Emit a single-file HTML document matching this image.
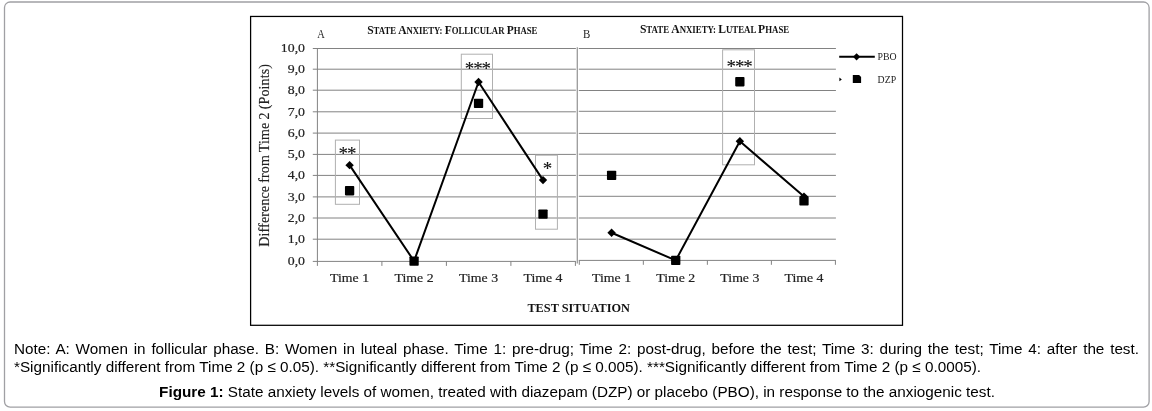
<!DOCTYPE html>
<html lang="en"><head><meta charset="utf-8"><title>Figure 1</title>
<style>
html,body{margin:0;padding:0;background:#fff;}
body{width:1152px;height:411px;position:relative;overflow:hidden;font-family:"Liberation Sans",Arial,sans-serif;color:#000;}
.note{position:absolute;left:14px;top:339px;width:1125px;font-size:15.27px;line-height:20px;margin:0;white-space:nowrap;}
.n1{text-align:justify;text-align-last:justify;white-space:normal;}
.cap{position:absolute;left:1px;top:382px;width:1152px;text-align:center;font-size:15.27px;line-height:20px;margin:0;}
</style></head><body>
<svg width="1152" height="411" viewBox="0 0 1152 411" style="position:absolute;left:0;top:0"><rect x="4.5" y="2" width="1144.6" height="405.1" rx="5.6" ry="5.6" fill="#fff" stroke="#a0a0a4" stroke-width="1.3"/></svg>
<svg width="1152" height="340" viewBox="0 0 1152 340" style="position:absolute;left:0;top:0" font-family="'Liberation Serif', 'DejaVu Serif', serif">
<rect x="250.6" y="16.45" width="651.9" height="308.85" fill="#fff" stroke="#000" stroke-width="1.25"/>
<line x1="312.79999999999995" y1="261.4" x2="575.9" y2="261.4" stroke="#828282" stroke-width="1"/>
<line x1="578.8" y1="260.4" x2="835.92" y2="260.4" stroke="#828282" stroke-width="1"/>
<text transform="translate(305,265.3) scale(1.08,1)" font-size="12.8" text-anchor="end" fill="#222" stroke="#222" stroke-width="0.2">0,0</text>
<line x1="312.79999999999995" y1="239.2" x2="575.9" y2="239.2" stroke="#828282" stroke-width="1"/>
<line x1="578.8" y1="239.2" x2="835.92" y2="239.2" stroke="#828282" stroke-width="1"/>
<text transform="translate(305,243.1) scale(1.08,1)" font-size="12.8" text-anchor="end" fill="#222" stroke="#222" stroke-width="0.2">1,0</text>
<line x1="312.79999999999995" y1="218.0" x2="575.9" y2="218.0" stroke="#828282" stroke-width="1"/>
<line x1="578.8" y1="218.0" x2="835.92" y2="218.0" stroke="#828282" stroke-width="1"/>
<text transform="translate(305,221.9) scale(1.08,1)" font-size="12.8" text-anchor="end" fill="#222" stroke="#222" stroke-width="0.2">2,0</text>
<line x1="312.79999999999995" y1="196.9" x2="575.9" y2="196.9" stroke="#828282" stroke-width="1"/>
<line x1="578.8" y1="196.3" x2="835.92" y2="196.3" stroke="#828282" stroke-width="1"/>
<text transform="translate(305,200.8) scale(1.08,1)" font-size="12.8" text-anchor="end" fill="#222" stroke="#222" stroke-width="0.2">3,0</text>
<line x1="312.79999999999995" y1="175.4" x2="575.9" y2="175.4" stroke="#828282" stroke-width="1"/>
<line x1="578.8" y1="175.4" x2="835.92" y2="175.4" stroke="#828282" stroke-width="1"/>
<text transform="translate(305,179.3) scale(1.08,1)" font-size="12.8" text-anchor="end" fill="#222" stroke="#222" stroke-width="0.2">4,0</text>
<line x1="312.79999999999995" y1="154.4" x2="575.9" y2="154.4" stroke="#828282" stroke-width="1"/>
<line x1="578.8" y1="154.2" x2="835.92" y2="154.2" stroke="#828282" stroke-width="1"/>
<text transform="translate(305,158.3) scale(1.08,1)" font-size="12.8" text-anchor="end" fill="#222" stroke="#222" stroke-width="0.2">5,0</text>
<line x1="312.79999999999995" y1="133.1" x2="575.9" y2="133.1" stroke="#828282" stroke-width="1"/>
<line x1="578.8" y1="133.4" x2="835.92" y2="133.4" stroke="#828282" stroke-width="1"/>
<text transform="translate(305,137.0) scale(1.08,1)" font-size="12.8" text-anchor="end" fill="#222" stroke="#222" stroke-width="0.2">6,0</text>
<line x1="312.79999999999995" y1="111.8" x2="575.9" y2="111.8" stroke="#828282" stroke-width="1"/>
<line x1="578.8" y1="111.3" x2="835.92" y2="111.3" stroke="#828282" stroke-width="1"/>
<text transform="translate(305,115.7) scale(1.08,1)" font-size="12.8" text-anchor="end" fill="#222" stroke="#222" stroke-width="0.2">7,0</text>
<line x1="312.79999999999995" y1="90.2" x2="575.9" y2="90.2" stroke="#828282" stroke-width="1"/>
<line x1="578.8" y1="90.5" x2="835.92" y2="90.5" stroke="#828282" stroke-width="1"/>
<text transform="translate(305,94.1) scale(1.08,1)" font-size="12.8" text-anchor="end" fill="#222" stroke="#222" stroke-width="0.2">8,0</text>
<line x1="312.79999999999995" y1="69.2" x2="575.9" y2="69.2" stroke="#828282" stroke-width="1"/>
<line x1="578.8" y1="69.2" x2="835.92" y2="69.2" stroke="#828282" stroke-width="1"/>
<text transform="translate(305,73.1) scale(1.08,1)" font-size="12.8" text-anchor="end" fill="#222" stroke="#222" stroke-width="0.2">9,0</text>
<line x1="312.79999999999995" y1="48.5" x2="575.9" y2="48.5" stroke="#828282" stroke-width="1"/>
<line x1="578.8" y1="48.5" x2="835.92" y2="48.5" stroke="#828282" stroke-width="1"/>
<text transform="translate(305,52.4) scale(1.08,1)" font-size="12.8" text-anchor="end" fill="#222" stroke="#222" stroke-width="0.2">10,0</text>
<line x1="317.4" y1="48.5" x2="317.4" y2="265.9" stroke="#828282" stroke-width="1"/>
<line x1="577.3" y1="47.2" x2="577.3" y2="263.4" stroke="#9a9a9a" stroke-width="1.3"/>
<line x1="381.9" y1="261.4" x2="381.9" y2="265.9" stroke="#828282"/>
<line x1="446.4" y1="261.4" x2="446.4" y2="265.9" stroke="#828282"/>
<line x1="510.9" y1="261.4" x2="510.9" y2="265.9" stroke="#828282"/>
<line x1="575.4" y1="261.4" x2="575.4" y2="265.9" stroke="#828282"/>
<line x1="579.3" y1="260.4" x2="579.3" y2="264.8" stroke="#828282"/>
<line x1="643.33" y1="260.4" x2="643.33" y2="264.8" stroke="#828282"/>
<line x1="707.36" y1="260.4" x2="707.36" y2="264.8" stroke="#828282"/>
<line x1="771.39" y1="260.4" x2="771.39" y2="264.8" stroke="#828282"/>
<line x1="835.42" y1="260.4" x2="835.42" y2="264.8" stroke="#828282"/>
<text transform="translate(349.6,281.7) scale(1.08,1)" font-size="12.8" text-anchor="middle" fill="#222" stroke="#222" stroke-width="0.2">Time 1</text>
<text transform="translate(611.6,281.7) scale(1.08,1)" font-size="12.8" text-anchor="middle" fill="#222" stroke="#222" stroke-width="0.2">Time 1</text>
<text transform="translate(414.07,281.7) scale(1.08,1)" font-size="12.8" text-anchor="middle" fill="#222" stroke="#222" stroke-width="0.2">Time 2</text>
<text transform="translate(675.73,281.7) scale(1.08,1)" font-size="12.8" text-anchor="middle" fill="#222" stroke="#222" stroke-width="0.2">Time 2</text>
<text transform="translate(478.54,281.7) scale(1.08,1)" font-size="12.8" text-anchor="middle" fill="#222" stroke="#222" stroke-width="0.2">Time 3</text>
<text transform="translate(739.86,281.7) scale(1.08,1)" font-size="12.8" text-anchor="middle" fill="#222" stroke="#222" stroke-width="0.2">Time 3</text>
<text transform="translate(543.01,281.7) scale(1.08,1)" font-size="12.8" text-anchor="middle" fill="#222" stroke="#222" stroke-width="0.2">Time 4</text>
<text transform="translate(803.99,281.7) scale(1.08,1)" font-size="12.8" text-anchor="middle" fill="#222" stroke="#222" stroke-width="0.2">Time 4</text>
<rect x="335.4" y="140.1" width="24.1" height="64.2" fill="none" stroke="#b0b0b0" stroke-width="1"/>
<rect x="461.3" y="54.2" width="31.2" height="64.3" fill="none" stroke="#b0b0b0" stroke-width="1"/>
<rect x="535.5" y="155.2" width="21.9" height="74.0" fill="none" stroke="#b0b0b0" stroke-width="1"/>
<rect x="722.6" y="49.8" width="31.9" height="115.0" fill="none" stroke="#b0b0b0" stroke-width="1"/>
<text x="347.0" y="159.5" font-size="19" text-anchor="middle" fill="#111" stroke="#111" stroke-width="0.12" letter-spacing="-1.1">**</text>
<text x="477.4" y="75.0" font-size="19" text-anchor="middle" fill="#111" stroke="#111" stroke-width="0.12" letter-spacing="-1.1">***</text>
<text x="547.0" y="175.0" font-size="19" text-anchor="middle" fill="#111" stroke="#111" stroke-width="0.12" letter-spacing="-1.1">*</text>
<text x="739.1" y="73.4" font-size="19" text-anchor="middle" fill="#111" stroke="#111" stroke-width="0.12" letter-spacing="-1.1">***</text>
<polyline fill="none" stroke="#000" stroke-width="2" stroke-linejoin="round" points="349.6,165.16 414.07,261.1 478.54,82.01 543.01,180.08"/>
<polyline fill="none" stroke="#000" stroke-width="2" stroke-linejoin="round" points="611.6,232.75 675.73,260.4 739.86,141.29 803.99,196.59"/>
<path d="M345.4,165.16 L349.6,160.96 L353.8,165.16 L349.6,169.36 Z" fill="#000"/>
<path d="M607.4,232.75 L611.6,228.55 L615.8,232.75 L611.6,236.95 Z" fill="#000"/>
<rect x="344.95" y="186.09" width="9.3" height="9.3" rx="0.8" fill="#000"/>
<rect x="606.95" y="170.67" width="9.3" height="9.3" rx="0.8" fill="#000"/>
<path d="M409.87,261.1 L414.07,256.9 L418.27,261.1 L414.07,265.3 Z" fill="#000"/>
<path d="M671.53,260.4 L675.73,256.2 L679.93,260.4 L675.73,264.6 Z" fill="#000"/>
<rect x="409.42" y="256.45" width="9.3" height="9.3" rx="0.8" fill="#000"/>
<rect x="671.08" y="255.75" width="9.3" height="9.3" rx="0.8" fill="#000"/>
<path d="M474.34,82.01 L478.54,77.81 L482.74,82.01 L478.54,86.21 Z" fill="#000"/>
<path d="M735.66,141.29 L739.86,137.09 L744.06,141.29 L739.86,145.49 Z" fill="#000"/>
<rect x="473.89" y="98.68" width="9.3" height="9.3" rx="0.8" fill="#000"/>
<rect x="735.21" y="77.08" width="9.3" height="9.3" rx="0.8" fill="#000"/>
<path d="M538.81,180.08 L543.01,175.88 L547.21,180.08 L543.01,184.28 Z" fill="#000"/>
<path d="M799.79,196.59 L803.99,192.39 L808.19,196.59 L803.99,200.79 Z" fill="#000"/>
<rect x="538.36" y="209.55" width="9.3" height="9.3" rx="0.8" fill="#000"/>
<rect x="799.34" y="196.19" width="9.3" height="9.3" rx="0.8" fill="#000"/>
<text x="367.2" y="33.9" textLength="170.2" lengthAdjust="spacingAndGlyphs" font-weight="bold" fill="#111"><tspan font-size="12.5">S</tspan><tspan font-size="9.5">TATE </tspan><tspan font-size="12.5">A</tspan><tspan font-size="9.5">NXIETY: </tspan><tspan font-size="12.5">F</tspan><tspan font-size="9.5">OLLICULAR </tspan><tspan font-size="12.5">P</tspan><tspan font-size="9.5">HASE</tspan></text>
<text x="639.9" y="33.0" textLength="149.3" lengthAdjust="spacingAndGlyphs" font-weight="bold" fill="#111"><tspan font-size="12.5">S</tspan><tspan font-size="9.5">TATE </tspan><tspan font-size="12.5">A</tspan><tspan font-size="9.5">NXIETY: </tspan><tspan font-size="12.5">L</tspan><tspan font-size="9.5">UTEAL </tspan><tspan font-size="12.5">P</tspan><tspan font-size="9.5">HASE</tspan></text>
<text x="317.3" y="38" font-size="13.4" fill="#222" textLength="7.5" lengthAdjust="spacingAndGlyphs">A</text>
<text x="582.9" y="38" font-size="13.4" fill="#222" textLength="7.3" lengthAdjust="spacingAndGlyphs">B</text>
<text x="527.4" y="311.9" font-size="13.5" font-weight="bold" fill="#111" textLength="102.5" lengthAdjust="spacingAndGlyphs">TEST SITUATION</text>
<text transform="translate(268.8,155.3) rotate(-90) scale(0.95,1)" font-size="14.8" text-anchor="middle" fill="#222" stroke="#222" stroke-width="0.15" letter-spacing="0.12" word-spacing="-0.6">Difference from Time 2 (Points)</text>
<line x1="839.2" y1="56.8" x2="874.8" y2="56.8" stroke="#000" stroke-width="2.1"/>
<path d="M853.0,56.8 L856.6,53.2 L860.2,56.8 L856.6,60.4 Z" fill="#000"/>
<text x="877.6" y="59.7" font-size="9.8" fill="#222">PBO</text>
<path d="M852.8,75 h6.3 l2,2 v5.9 h-8.3 Z" fill="#000"/>
<path d="M839.4,77.6 l2.4,1.8 l-2.4,1.8 Z" fill="#000"/>
<text x="877.6" y="82.8" font-size="9.8" fill="#222">DZP</text>
</svg>
<div class="note n1">Note: A: Women in follicular phase. B: Women in luteal phase. Time 1: pre-drug; Time 2: post-drug, before the test; Time 3: during the test; Time 4: after the test.</div>
<div class="note" style="top:357px">*Significantly different from Time 2 (p ≤ 0.05). **Significantly different from Time 2 (p ≤ 0.005). ***Significantly different from Time 2 (p ≤ 0.0005).</div>
<p class="cap"><b>Figure 1:</b> State anxiety levels of women, treated with diazepam (DZP) or placebo (PBO), in response to the anxiogenic test.</p>
</body></html>
